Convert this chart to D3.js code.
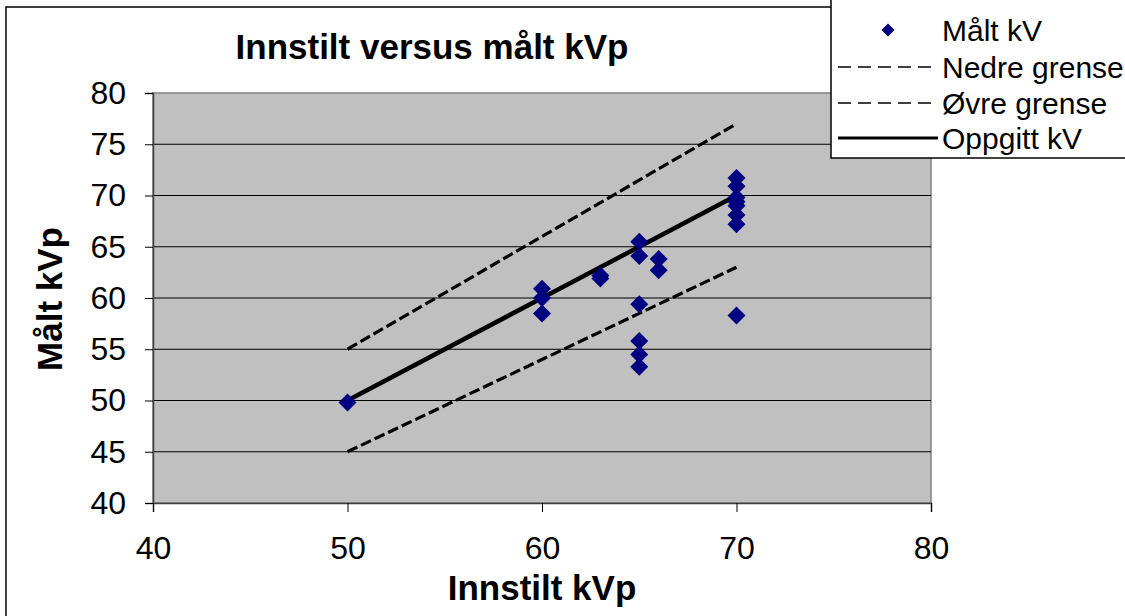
<!DOCTYPE html>
<html><head><meta charset="utf-8">
<script src="https://cdn.jsdelivr.net/npm/d3@7"></script>
<style>html,body{margin:0;padding:0;background:#fff;overflow:hidden}svg{display:block}text{font-family:"Liberation Sans",Arial,sans-serif}</style>
</head><body>
<svg id="c" width="1125" height="616"></svg>
<script>
// ---- data ----
const setKV  = [50, 60, 60, 60, 63, 63, 65, 65, 65, 65, 65, 65, 66, 66, 70, 70, 70, 70, 70, 70, 70, 70];
const measKV = [49.8, 60.9, 60.0, 58.5, 62.2, 61.9, 65.5, 64.1, 59.4, 55.8, 54.5, 53.3, 63.8, 62.7, 71.7, 70.9, 69.8, 69.4, 69.0, 68.1, 67.2, 58.3];
const lineX   = [50, 60, 63, 65, 66, 70];
const nominal = [50, 60, 63, 65, 66, 70];
const lower   = [45, 54, 56.7, 58.5, 59.4, 63];
const upper   = [55, 66, 69.3, 71.5, 72.6, 77];
const xTicks = [40, 50, 60, 70, 80];
const yTicks = [40, 45, 50, 55, 60, 65, 70, 75, 80];
const title = "Innstilt versus målt kVp";
const xTitle = "Innstilt kVp";
const yTitle = "Målt kVp";
const legendLabels = ["Målt kV", "Nedre grense", "Øvre grense", "Oppgitt kV"];

// ---- layout ----
const svg = d3.select("#c");
const P = {l:153, t:93, r:931, b:503};
const x = d3.scaleLinear().domain([40, 80]).range([P.l, P.r]);
const y = d3.scaleLinear().domain([40, 80]).range([P.b, P.t]);

// outer chart border
svg.append("rect").attr("x", 6).attr("y", 7).attr("width", 1300).attr("height", 800)
  .attr("fill", "#fff").attr("stroke", "#000").attr("stroke-width", 1.5);

// plot area
svg.append("rect").attr("x", P.l).attr("y", P.t).attr("width", P.r - P.l).attr("height", P.b - P.t)
  .attr("fill", "#c0c0c0").attr("stroke", "#808080").attr("stroke-width", 1.5);

// gridlines
svg.append("g").selectAll("line").data(yTicks.filter(d => d > 40 && d < 80)).join("line")
  .attr("x1", P.l).attr("x2", P.r).attr("y1", d => y(d)).attr("y2", d => y(d))
  .attr("stroke", "#000").attr("stroke-width", 1);

// axes
const yAxis = svg.append("g").attr("transform", `translate(${P.l},0)`)
  .call(d3.axisLeft(y).tickValues(yTicks).tickSize(8).tickPadding(19));
const xAxis = svg.append("g").attr("transform", `translate(0,${P.b})`)
  .call(d3.axisBottom(x).tickValues(xTicks).tickSize(9).tickPadding(24));
[yAxis, xAxis].forEach(a => {
  a.select(".domain").attr("stroke", "#404040").attr("stroke-width", 1.5);
  a.selectAll(".tick line").attr("stroke", "#000").attr("stroke-width", 1);
  a.selectAll(".tick text").attr("font-size", 32).attr("fill", "#000")
    .style("font-family", '"Liberation Sans",Arial,sans-serif');
});

// lines
const lineGen = d3.line().x((d, i) => x(lineX[i])).y(d => y(d));
svg.append("path").datum(lower).attr("d", lineGen).attr("fill", "none")
  .attr("stroke", "#000").attr("stroke-width", 3.2).attr("stroke-dasharray", "11,4");
svg.append("path").datum(upper).attr("d", lineGen).attr("fill", "none")
  .attr("stroke", "#000").attr("stroke-width", 3.2).attr("stroke-dasharray", "11,4");
svg.append("path").datum(nominal).attr("d", lineGen).attr("fill", "none")
  .attr("stroke", "#000").attr("stroke-width", 4.5);

// diamonds
const diamond = {draw(ctx, size){ const r = Math.sqrt(size / 2);
  ctx.moveTo(0, -r); ctx.lineTo(r, 0); ctx.lineTo(0, r); ctx.lineTo(-r, 0); ctx.closePath(); }};
svg.append("g").selectAll("path").data(setKV).join("path")
  .attr("d", d3.symbol().type(diamond).size(2 * 9 * 9))
  .attr("transform", (d, i) => `translate(${x(d)},${y(measKV[i])})`)
  .attr("fill", "#000080");

// titles
svg.append("text").attr("x", 432).attr("y", 59).attr("text-anchor", "middle")
  .attr("font-size", 35).attr("font-weight", "bold").text(title);
svg.append("text").attr("x", 542).attr("y", 600).attr("text-anchor", "middle")
  .attr("font-size", 35).attr("font-weight", "bold").text(xTitle);
svg.append("text").attr("transform", "translate(62,299) rotate(-90)").attr("text-anchor", "middle")
  .attr("font-size", 35).attr("font-weight", "bold").text(yTitle);

// legend
const lg = svg.append("g");
lg.append("rect").attr("x", 831).attr("y", -2).attr("width", 400).attr("height", 160)
  .attr("fill", "#fff").attr("stroke", "#000").attr("stroke-width", 1.5);
const rowY = [30, 67, 103, 138];
legendLabels.forEach((lab, i) => {
  const cy = rowY[i];
  if (i === 0) {
    lg.append("path").attr("d", d3.symbol().type(diamond).size(2 * 6.5 * 6.5)())
      .attr("transform", `translate(888,${cy})`).attr("fill", "#000080");
  } else {
    lg.append("line").attr("x1", 838).attr("x2", 938).attr("y1", cy).attr("y2", cy)
      .attr("stroke", "#000").attr("stroke-width", i === 3 ? 3 : 1.6)
      .attr("stroke-dasharray", i === 3 ? null : "13,7");
  }
  lg.append("text").attr("x", 942).attr("y", cy + 11).attr("font-size", 30).text(lab);
});
</script>
</body></html>
